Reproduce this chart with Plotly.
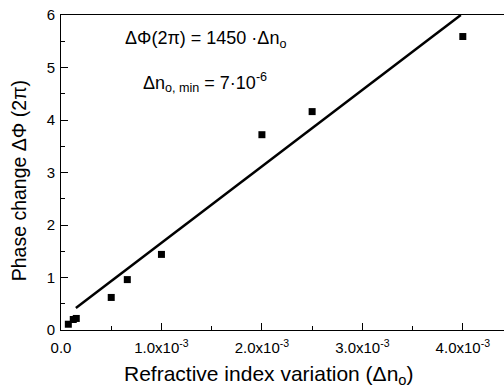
import plotly.graph_objects as go

# Measured data
dn = [0.073e-3, 0.122e-3, 0.152e-3, 0.50e-3, 0.66e-3, 1.0e-3, 2.0e-3, 2.5e-3, 4.0e-3]
dphi = [0.11, 0.20, 0.22, 0.62, 0.96, 1.44, 3.72, 4.16, 5.59]

# Linear fit line endpoints (ΔΦ = 1450·Δn + 0.2)
fit_x = [0.148e-3, 3.98e-3]
fit_y = [0.42, 6.0]

xtick_vals = [0, 1e-3, 2e-3, 3e-3, 4e-3]
xtick_text = ["0.0", "1.0x10<sup>-3</sup>", "2.0x10<sup>-3</sup>",
              "3.0x10<sup>-3</sup>", "4.0x10<sup>-3</sup>"]
ytick_vals = [0, 1, 2, 3, 4, 5, 6]

FONT = "Liberation Sans, Arial, sans-serif"

fig = go.Figure()
fig.add_trace(go.Scatter(x=fit_x, y=fit_y, mode="lines",
                         line=dict(color="black", width=2.5), showlegend=False))
fig.add_trace(go.Scatter(x=dn, y=dphi, mode="markers",
                         marker=dict(symbol="square", size=7, color="black"),
                         showlegend=False))

fig.update_layout(
    width=504, height=387,
    margin=dict(l=61, r=0, t=15, b=57),
    paper_bgcolor="white", plot_bgcolor="white",
    font=dict(family=FONT, size=14, color="black"),
    xaxis=dict(range=[0, 4.41e-3], tickvals=xtick_vals, ticktext=xtick_text,
               ticks="inside", ticklen=7, tickwidth=1, tickcolor="black",
               minor=dict(ticks="inside", ticklen=4, dtick=0.5e-3, tick0=0, tickcolor="black"),
               showline=True, linecolor="black", linewidth=1, mirror=True,
               showgrid=False, zeroline=False, tickfont=dict(size=15),
               ticklabelstandoff=4),
    yaxis=dict(range=[0, 6], tickvals=ytick_vals,
               ticks="inside", ticklen=7, tickwidth=1, tickcolor="black",
               minor=dict(ticks="inside", ticklen=4, dtick=0.5, tick0=0, tickcolor="black"),
               showline=True, linecolor="black", linewidth=1, mirror=False,
               showgrid=False, zeroline=False, tickfont=dict(size=15),
               ticklabelstandoff=2),
    annotations=[
        dict(text="ΔΦ(2π) = 1450 ·Δn<sub>o</sub>", xref="paper", yref="paper",
             x=0.141, y=0.922, xanchor="left", yanchor="middle", showarrow=False,
             font=dict(size=18)),
        dict(text="Δn<sub>o, min</sub> = 7·10<sup>-6</sup>", xref="paper", yref="paper",
             x=0.18, y=0.787, xanchor="left", yanchor="middle", showarrow=False,
             font=dict(size=18)),
        dict(text="Refractive index variation (Δn<sub>o</sub>)", xref="paper", yref="paper",
             x=0.469, y=-0.142, xanchor="center", yanchor="middle", showarrow=False,
             font=dict(size=21)),
        dict(text="Phase change ΔΦ (2π)", xref="paper", yref="paper",
             x=-0.095, y=0.475, xanchor="center", yanchor="middle", textangle=-90,
             showarrow=False, font=dict(size=19.5)),
    ],
)

fig.write_html("out.html",
               config={"displayModeBar": False},
               post_script="document.body.style.margin='0';document.body.style.overflow='hidden';")
